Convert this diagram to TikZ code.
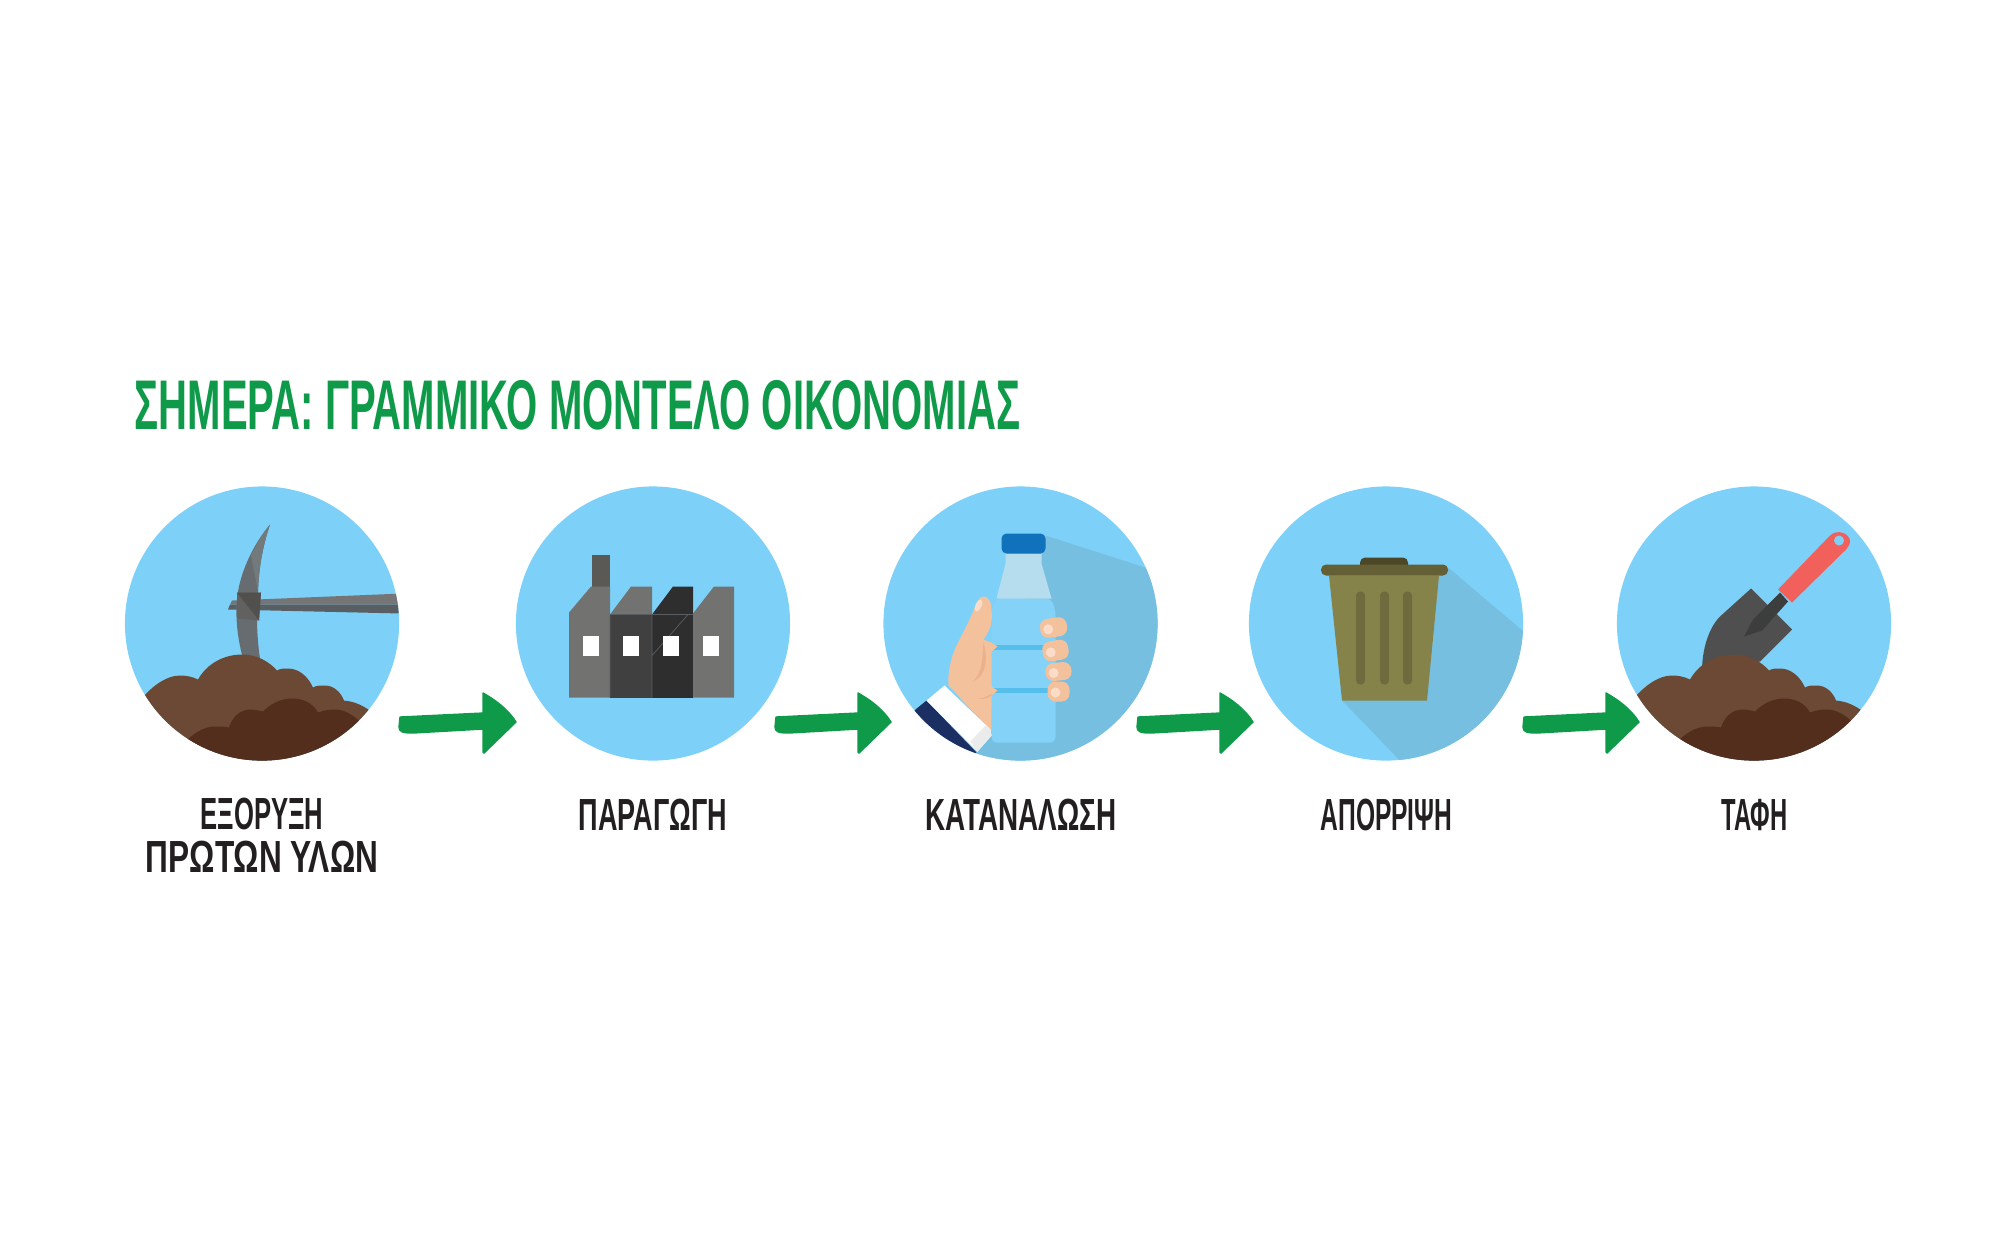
\documentclass[tikz,border=0pt]{standalone}
\usepackage{fontspec}
\usetikzlibrary{calc}
\newfontfamily\postfont[FakeStretch=.6]{Liberation Sans Bold}
\definecolor{SkyBlue}{RGB}{125, 209, 248}
\definecolor{ShadeBlue}{RGB}{118, 191, 224}
\definecolor{LeafGreen}{RGB}{15, 154, 74}
\definecolor{InkBlack}{RGB}{35, 31, 32}
\definecolor{SoilLight}{RGB}{107, 73, 52}
\definecolor{SoilDark}{RGB}{83, 46, 28}
\definecolor{SteelA}{RGB}{117, 117, 117}
\definecolor{SteelB}{RGB}{88, 94, 98}
\definecolor{SteelC}{RGB}{102, 108, 112}
\definecolor{SteelD}{RGB}{115, 122, 124}
\definecolor{WallMid}{RGB}{114, 114, 113}
\definecolor{WallDark}{RGB}{64, 64, 64}
\definecolor{WallBlack}{RGB}{46, 46, 46}
\definecolor{Stack}{RGB}{90, 89, 85}
\definecolor{Skin}{RGB}{244, 193, 157}
\definecolor{SkinDark}{RGB}{236, 176, 138}
\definecolor{Nail}{RGB}{250, 220, 200}
\definecolor{Navy}{RGB}{27, 47, 99}
\definecolor{BottleBody}{RGB}{132, 210, 248}
\definecolor{BottleNeck}{RGB}{181, 221, 238}
\definecolor{BottleCap}{RGB}{15, 114, 186}
\definecolor{BottleBand}{RGB}{86, 190, 235}
\definecolor{BinBody}{RGB}{133, 131, 74}
\definecolor{BinLid}{RGB}{100, 95, 53}
\definecolor{BinTop}{RGB}{76, 71, 38}
\definecolor{BinRib}{RGB}{111, 107, 62}
\definecolor{Trowel}{RGB}{79, 79, 79}
\definecolor{TrowelNeck}{RGB}{60, 62, 61}
\definecolor{Grip}{RGB}{242, 96, 92}

\begin{document}
\begin{tikzpicture}[x=.01cm, y=-.01cm]
      \tikzstyle{disc}=[circle, fill=SkyBlue, minimum size=2.74cm, inner sep=0pt];
      \tikzstyle{caption}=[text=InkBlack, align=center, inner sep=0pt, font=\postfont\fontsize{12.8}{12.4}\selectfont];
      \tikzstyle{heading}=[text=LeafGreen, anchor=base west, inner sep=0pt, font=\postfont\fontsize{20}{24}\selectfont];
      \tikzstyle{flowarrow}=[fill=LeafGreen, draw=LeafGreen, line width=.4pt, line join=round,
        to path={($(\tikztostart)+(1,-7)$) -- ($(\tikztotarget)+(-33,-9)$) -- ($(\tikztotarget)+(-33,-29)$)
          .. controls ($(\tikztotarget)+(-22,-23)$) and ($(\tikztotarget)+(-8,-13)$) .. (\tikztotarget)
          -- ($(\tikztotarget)+(-32,31)$) -- ($(\tikztotarget)+(-33,30)$)
          -- ($(\tikztotarget)+(-33,7)$) -- ($(\tikztostart)+(14,9)$)
          .. controls ($(\tikztostart)+(4,9)$) and ($(\tikztostart)+(0,8)$) .. ($(\tikztostart)+(0,3)$) -- cycle}];
      \tikzset{
        moundfill/.pic={
          \fill[SoilLight] (-128,85) .. controls (-112,62) and (-95,52) .. (-82,52) .. controls (-76,52) and (-70,53) .. (-64,56)
            .. controls (-55,40) and (-38,31) .. (-20,31) .. controls (-5,31) and (7,38) .. (15,47)
            .. controls (18,45) and (22,45) .. (26,45) .. controls (37,45) and (46,53) .. (51,64)
            .. controls (54,62) and (58,62) .. (63,62) .. controls (72,62) and (79,69) .. (82,77)
            .. controls (92,78) and (100,81) .. (112,90) -- (112,140) -- (-128,140) -- cycle;
          \fill[SoilDark] (-80,122) .. controls (-70,110) and (-58,103) .. (-47,103) .. controls (-42,103) and (-38,103) .. (-33,104)
            .. controls (-30,94) and (-22,86) .. (-12,86) .. controls (-8,86) and (-3,87) .. (1,88)
            .. controls (9,80) and (19,75) .. (30,75) .. controls (42,75) and (51,80) .. (56,89)
            .. controls (61,87) and (67,86) .. (73,86) .. controls (82,86) and (91,91) .. (100,100)
            -- (100,140) -- (-80,140) -- cycle;
        }
      }

      \useasboundingbox (0,0) rectangle (2000,1250);

      \foreach \nm/\cx in {mine/262, plant/653, shop/1020.5, bin/1386, grave/1754}
        \node[disc] (\nm) at (\cx,623.5) {};

      % pickaxe
      \begin{scope}[shift={(mine.center)}]
        \clip (0,0) circle (1.37cm);
        \fill[SteelA] (-30,-23) -- (140,-30) -- (140,-19) -- (-32,-19) -- cycle;
        \fill[SteelB] (-32,-19) -- (140,-19) -- (140,-10) -- (-34,-14) -- cycle;
        \fill[SteelC] (8,-99) .. controls (-8,-80) and (-20,-55) .. (-24,-32) .. controls (-27,-15) and (-26,10) .. (-19,35)
          -- (-2,35) .. controls (-5,15) and (-6,-10) .. (-4,-32) .. controls (-3,-55) and (0,-75) .. (8,-99) -- cycle;
        \fill[SteelD] (8,-99) .. controls (-1,-88) and (-6,-78) .. (-11,-68) -- (-4,-32) .. controls (-3,-55) and (0,-75) .. (8,-99) -- cycle;
        \fill[WallMid!85!black] (-25,-31) -- (-1,-31) -- (-3,-3) -- (-25,-5) -- cycle;
        \fill[Stack!90!black] (-25,-31) -- (-1,-31) -- (-3,-3) -- cycle;
        \pic {moundfill};
      \end{scope}

      % factory
      \begin{scope}[shift={(plant.center)}]
        \fill[Stack] (-61,-69) rectangle (-43,-37);
        \fill[WallMid] (-84,74) -- (-84,-11) -- (-62,-37) -- (-43,-37) -- (-43,74) -- cycle;
        \fill[WallMid] (-43,-9) -- (-22,-37) -- (-1,-37) -- (-1,-9) -- cycle;
        \fill[WallBlack] (-1,-9) -- (20,-37) -- (40,-37) -- (40,-9) -- cycle;
        \fill[WallDark] (-43,-9) rectangle (-1,74);
        \fill[WallBlack] (-1,-9) rectangle (40,74);
        \fill[WallMid] (40,74) -- (40,-10) -- (61,-37) -- (81,-37) -- (81,74) -- cycle;
        \draw[SteelB, line width=.2pt] (-43,-9) -- (40,-9) (-1,-9) -- (-1,74) (-1,32) -- (35,-9) (-43,-9) -- (-43,74);
        \foreach \wx in {-70,-30,10,50}
          \fill[white] (\wx,12) rectangle ++(15.5,20.5);
      \end{scope}

      % bottle in hand
      \begin{scope}[shift={(shop.center)}]
        \clip (0,0) circle (1.37cm);
        \fill[ShadeBlue] (25,-88) -- (140,-51) -- (150,150) -- (-50,150) -- cycle;
        \fill[BottleBody, rounded corners=.05cm] (-24,-25) -- (31,-25) -- (35,-12) -- (35,119) -- (-29,119) -- (-29,-12) -- cycle;
        \fill[BottleNeck] (-15,-70) -- (21,-70) -- (21,-60) -- (31,-25) -- (-24,-25) -- (-15,-60) -- cycle;
        \fill[BottleCap, rounded corners=.05cm] (-19,-90) rectangle (25,-70);
        \fill[BottleBand] (-29,21) rectangle (26,26);
        \fill[BottleBand] (-29,64) rectangle (29,69);
        \fill[Skin] (-37,-27) .. controls (-31,-27) and (-29,-20) .. (-29,-13) .. controls (-28,-3) and (-29,5) .. (-37,16)
          -- (-32,18) -- (-29,19) -- (-23,23) -- (-29,28) -- (-29,63) -- (-23,67) -- (-29,72) -- (-29,108) -- (-72,62)
          .. controls (-73,50) and (-70,35) .. (-64,22) .. controls (-58,10) and (-50,-5) .. (-47,-13) .. controls (-44,-20) and (-42,-27) .. (-37,-27) -- cycle;
        \fill[SkinDark] (-37,18) .. controls (-33,35) and (-33,52) .. (-48,58) .. controls (-38,50) and (-38,35) .. (-37,18) -- cycle;
        \fill[SkinDark] (-43,75) .. controls (-38,75) and (-33,73) .. (-29,70) -- (-29,72) .. controls (-33,75) and (-38,76) .. (-43,75) -- cycle;
        \fill[Nail, rotate around={-25:(-42,-18)}] (-42,-18) ellipse [x radius=.03cm, y radius=.065cm];
        \foreach \fx/\fy/\fw/\fh/\fa in {33/4/27/19/8, 35/27/26/20/10, 38/48/26/18/5, 38/68/22/20/0} {
          \begin{scope}[shift={(\fx,\fy)}, rotate=\fa]
            \fill[Skin, rounded corners=.08cm] ({-\fw/2},{-\fh/2}) rectangle ({\fw/2},{\fh/2});
            \fill[Nail] ({-\fw/2+8},1) circle (.05cm);
          \end{scope}
        }
        \fill[Navy] (-105,86) -- (-94,77) -- (-44,129) -- (-60,145) -- (-125,110) -- cycle;
        \fill[white] (-94,77) -- (-76,62) -- (-30,106) -- (-29,112) -- (-43,128) -- cycle;
        \fill[black!8] (-35,102) -- (-30,106) -- (-29,112) -- (-43,128) -- (-50,118) -- cycle;
      \end{scope}

      % bin
      \begin{scope}[shift={(bin.center)}]
        \clip (0,0) circle (1.37cm);
        \fill[ShadeBlue] (61,-57) -- (160,27) -- (160,160) -- (36,160) -- (-44,77) -- cycle;
        \fill[BinTop, rounded corners=.05cm] (-26,-66) rectangle (22,-52);
        \fill[BinBody] (-57,-48) -- (53,-48) -- (41,77) -- (-44,77) -- cycle;
        \fill[BinLid, rounded corners=.05cm] (-65,-59) rectangle (62,-48);
        \foreach \rx in {-30,-6,17}
          \fill[BinRib, rounded corners=.04cm] (\rx,-32) rectangle ++(9,93);
      \end{scope}

      % trowel
      \begin{scope}[shift={(grave.center)}]
        \clip (0,0) circle (1.37cm);
        \fill[Trowel] (-3,-35) -- (38,6) -- (6,38) -- (-52,48) .. controls (-52,25) and (-45,4) .. (-34,-7) -- cycle;
        \fill[TrowelNeck] (-10,13) -- (-1,-4) -- (26,-31) -- (34,-22) -- (8,7) -- cycle;
        \fill[Grip] (24,-34) -- (76,-88) .. controls (84,-95) and (95,-90) .. (96,-83) .. controls (96,-79) and (94,-76) .. (92,-74) -- (38,-21) -- cycle;
        \fill[SkyBlue] (85,-83) circle (.05cm);
        \pic {moundfill};
      \end{scope}

      \node[heading] (title) at (134,429.5) {\scalebox{.95}[1]{ΣΗΜΕΡΑ: ΓΡΑΜΜΙΚΟ ΜΟΝΤΕΛΟ ΟΙΚΟΝΟΜΙΑΣ}};

      \node[caption, anchor=north] (capmine) at (262,797) {\scalebox{.95}[1]{ΕΞΟΡΥΞΗ}\\\scalebox{1.17}[1]{ΠΡΩΤΩΝ ΥΛΩΝ}};
      \node[caption, anchor=base] (capplant) at (653,830) {ΠΑΡΑΓΩΓΗ};
      \node[caption, anchor=base] (capshop) at (1021,830) {\scalebox{1.03}[1]{ΚΑΤΑΝΑΛΩΣΗ}};
      \node[caption, anchor=base] (capbin) at (1386.5,830) {\scalebox{.91}[1]{ΑΠΟΡΡΙΨΗ}};
      \node[caption, anchor=base] (capgrave) at (1754.5,830) {\scalebox{.88}[1]{ΤΑΦΗ}};

      \foreach \k/\tx/\hx in {1/399/516, 2/775/891, 3/1137/1253, 4/1523/1639} {
        \coordinate (tail\k) at (\tx,724);
        \coordinate (tip\k) at (\hx,722);
        \path[flowarrow] (tail\k) to (tip\k);
      }
\end{tikzpicture}
\end{document}
